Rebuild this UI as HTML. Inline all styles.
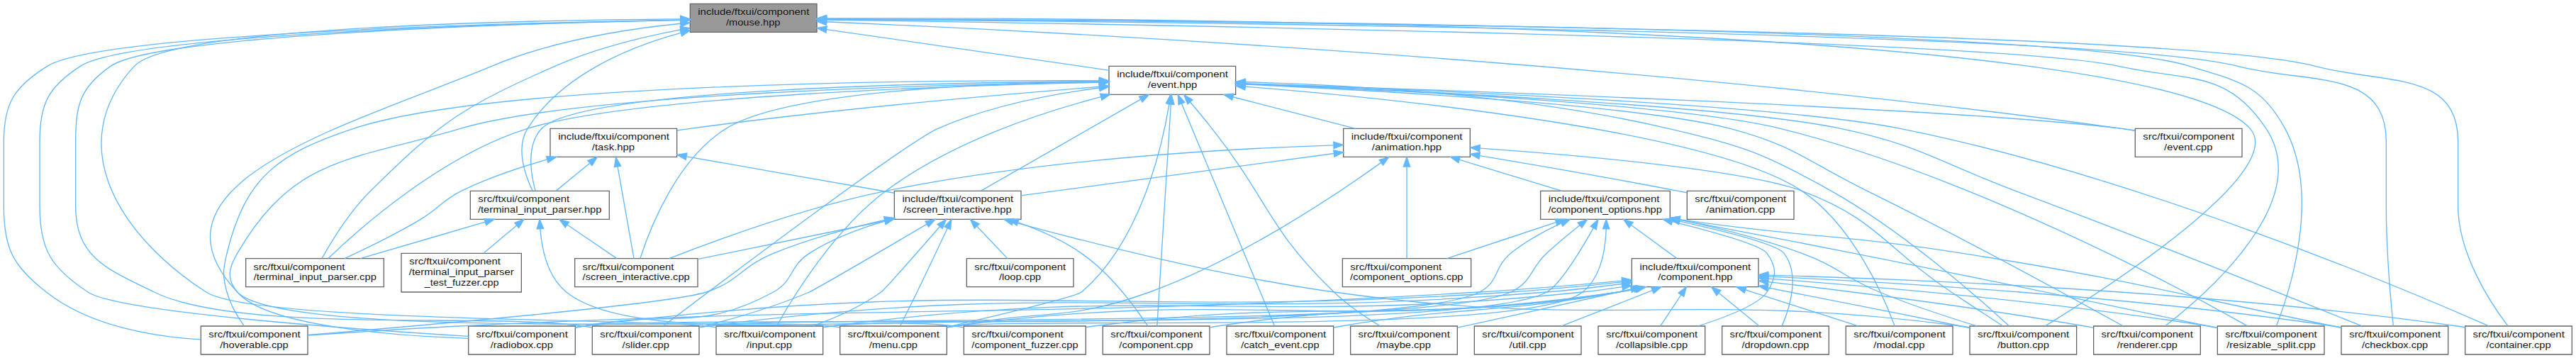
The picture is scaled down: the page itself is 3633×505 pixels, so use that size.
<!DOCTYPE html>
<html><head><meta charset="utf-8"><title>include/ftxui/component/mouse.hpp</title>
<style>
html,body{margin:0;padding:0;background:#fff;}
body{width:3633px;height:505px;overflow:hidden;}
svg{display:block;}
text{font-family:"Liberation Sans",sans-serif;font-size:10px;fill:#161616;}
.e path{fill:none;stroke:#63b8ff;stroke-width:1}
.e polygon{fill:#63b8ff;stroke:#63b8ff;stroke-width:1}
.n polygon{stroke:#666;stroke-width:1}
</style></head><body>
<svg width="3633" height="505" viewBox="0 0 2724.75 378.75">
<rect x="0" y="0" width="2724.75" height="378.75" fill="#fff"/>
<g transform="translate(4 375)">
<g class="n"><polygon fill="#999" points="860,-371 726,-371 726,-341 860,-341 860,-371"/><text x="734.22" y="-359" textLength="117.76" lengthAdjust="spacingAndGlyphs">include/ftxui/component</text><text x="763.99" y="-348" textLength="57.36" lengthAdjust="spacingAndGlyphs">/mouse.hpp</text></g>
<g class="n"><polygon fill="#fff" points="1303,-305 1169,-305 1169,-275 1303,-275 1303,-305"/><text x="1177.4" y="-293" textLength="117.52" lengthAdjust="spacingAndGlyphs">include/ftxui/component</text><text x="1210.07" y="-282" textLength="52.07" lengthAdjust="spacingAndGlyphs">/event.hpp</text></g>
<g class="e"><path d="M870.33,-343.83C954.76,-331.63 1088.61,-312.29 1168.81,-300.71"/><polygon points="869.68,-340.39 860.28,-345.28 870.68,-347.31 869.68,-340.39"/></g>
<g class="n"><polygon fill="#fff" points="2192.5,-30 2079.5,-30 2079.5,0 2192.5,0 2192.5,-30"/><text x="2087.9" y="-18" textLength="96.74" lengthAdjust="spacingAndGlyphs">src/ftxui/component</text><text x="2108.73" y="-7" textLength="54.8" lengthAdjust="spacingAndGlyphs">/button.cpp</text></g>
<g class="e"><path d="M870.06,-355.47C1173.59,-356.5 2274.88,-352.35 2376,-239 2415.95,-194.22 2227,-71.77 2159.34,-30.1"/><polygon points="870.05,-351.97 860.03,-355.43 870.02,-358.97 870.05,-351.97"/></g>
<g class="n"><polygon fill="#fff" points="2585.5,-30 2472.5,-30 2472.5,0 2585.5,0 2585.5,-30"/><text x="2480.9" y="-18" textLength="96.74" lengthAdjust="spacingAndGlyphs">src/ftxui/component</text><text x="2494.22" y="-7" textLength="69.96" lengthAdjust="spacingAndGlyphs">/checkbox.cpp</text></g>
<g class="e"><path d="M870.22,-354.52C1166.06,-352.39 2217.97,-342.27 2363,-305 2438.85,-285.51 2520,-303.31 2520,-225 2520,-225 2520,-225 2520,-157 2520,-110.64 2524.91,-55.88 2527.47,-30.39"/><polygon points="869.99,-351.02 860.02,-354.59 870.04,-358.02 869.99,-351.02"/></g>
<g class="n"><polygon fill="#fff" points="2716.5,-30 2603.5,-30 2603.5,0 2716.5,0 2716.5,-30"/><text x="2611.61" y="-18" textLength="96.98" lengthAdjust="spacingAndGlyphs">src/ftxui/component</text><text x="2625.84" y="-7" textLength="68.34" lengthAdjust="spacingAndGlyphs">/container.cpp</text></g>
<g class="e"><path d="M870.18,-354.72C1175.79,-353.33 2292.01,-345.49 2445,-305 2518.42,-285.57 2596,-300.95 2596,-225 2596,-225 2596,-225 2596,-157 2596,-106.73 2630.15,-54.67 2648.56,-30.25"/><polygon points="870.06,-351.22 860.08,-354.76 870.09,-358.22 870.06,-351.22"/></g>
<g class="n"><polygon fill="#fff" points="321.5,-30 208.5,-30 208.5,0 321.5,0 321.5,-30"/><text x="216.76" y="-18" textLength="96.93" lengthAdjust="spacingAndGlyphs">src/ftxui/component</text><text x="228.66" y="-7" textLength="72.32" lengthAdjust="spacingAndGlyphs">/hoverable.cpp</text></g>
<g class="e"><path d="M715.6,-353.92C535.97,-350.83 101.77,-339.8 46,-305 11.2,-283.29 0,-266.01 0,-225 0,-225 0,-225 0,-157 0,-111.88 9.56,-93.93 45,-66 91.6,-29.27 160.1,-18.5 208.25,-15.83"/><polygon points="715.71,-357.42 725.77,-354.09 715.83,-350.42 715.71,-357.42"/></g>
<g class="n"><polygon fill="#fff" points="866.5,-30 753.5,-30 753.5,0 866.5,0 866.5,-30"/><text x="761.9" y="-18" textLength="96.74" lengthAdjust="spacingAndGlyphs">src/ftxui/component</text><text x="785.66" y="-7" textLength="48.08" lengthAdjust="spacingAndGlyphs">/input.cpp</text></g>
<g class="e"><path d="M715.68,-354.86C550.81,-353.74 176.55,-346.61 138,-305 62.24,-223.24 120.46,-126.62 214,-66 263.53,-33.9 685.54,-38.14 744,-30 747.02,-29.58 750.1,-29.1 753.21,-28.58"/><polygon points="715.73,-358.36 725.75,-354.92 715.78,-351.36 715.73,-358.36"/></g>
<g class="n"><polygon fill="#fff" points="997.5,-30 884.5,-30 884.5,0 997.5,0 997.5,-30"/><text x="892.61" y="-18" textLength="96.98" lengthAdjust="spacingAndGlyphs">src/ftxui/component</text><text x="915.23" y="-7" textLength="51.23" lengthAdjust="spacingAndGlyphs">/menu.cpp</text></g>
<g class="e"><path d="M715.77,-350.04C658.75,-344.27 580.24,-331.81 516,-305 368.41,-243.4 137.2,-182.28 247,-66 294.99,-15.18 805.73,-39.28 875,-30 878.02,-29.6 881.1,-29.13 884.21,-28.62"/><polygon points="715.51,-353.53 725.8,-351.01 716.18,-346.56 715.51,-353.53"/></g>
<g class="n"><polygon fill="#fff" points="604.5,-30 491.5,-30 491.5,0 604.5,0 604.5,-30"/><text x="499.61" y="-18" textLength="96.98" lengthAdjust="spacingAndGlyphs">src/ftxui/component</text><text x="514.74" y="-7" textLength="66.19" lengthAdjust="spacingAndGlyphs">/radiobox.cpp</text></g>
<g class="e"><path d="M715.76,-353.75C542.38,-350.35 133.29,-338.8 81,-305 47.1,-283.09 38,-265.37 38,-225 38,-225 38,-225 38,-157 38,-110.64 50.33,-91.57 89,-66 121.93,-44.23 375.99,-26.35 491.34,-19.27"/><polygon points="715.77,-357.25 725.84,-353.94 715.9,-350.25 715.77,-357.25"/></g>
<g class="n"><polygon fill="#fff" points="2323.5,-30 2210.5,-30 2210.5,0 2323.5,0 2323.5,-30"/><text x="2218.61" y="-18" textLength="96.98" lengthAdjust="spacingAndGlyphs">src/ftxui/component</text><text x="2235.28" y="-7" textLength="63.83" lengthAdjust="spacingAndGlyphs">/renderer.cpp</text></g>
<g class="e"><path d="M870.44,-353.97C1150.84,-350 2103.55,-334.48 2237,-305 2310.51,-288.76 2351.41,-301.75 2393,-239 2443.24,-163.2 2332.81,-66.2 2286.35,-30.24"/><polygon points="870.31,-350.47 860.36,-354.11 870.41,-357.47 870.31,-350.47"/></g>
<g class="n"><polygon fill="#fff" points="2454.5,-30 2341.5,-30 2341.5,0 2454.5,0 2454.5,-30"/><text x="2349.76" y="-18" textLength="96.93" lengthAdjust="spacingAndGlyphs">src/ftxui/component</text><text x="2351.17" y="-7" textLength="94.04" lengthAdjust="spacingAndGlyphs">/resizable_split.cpp</text></g>
<g class="e"><path d="M870.28,-354.89C1160.28,-354.17 2174.22,-348.5 2312,-305 2363.13,-288.85 2387.48,-286.16 2413,-239 2451.04,-168.7 2418.15,-67.14 2403.85,-30.15"/><polygon points="870.26,-351.39 860.27,-354.92 870.28,-358.39 870.26,-351.39"/></g>
<g class="n"><polygon fill="#fff" points="735.5,-30 622.5,-30 622.5,0 735.5,0 735.5,-30"/><text x="630.76" y="-18" textLength="96.93" lengthAdjust="spacingAndGlyphs">src/ftxui/component</text><text x="654.22" y="-7" textLength="49.7" lengthAdjust="spacingAndGlyphs">/slider.cpp</text></g>
<g class="e"><path d="M715.78,-353.69C548.06,-350.22 161.58,-338.63 113,-305 80.79,-282.7 76,-264.17 76,-225 76,-225 76,-225 76,-157 76,-102.26 109.83,-90.07 159,-66 249.9,-21.5 512.84,-44.53 613,-30 616.01,-29.56 619.1,-29.07 622.2,-28.54"/><polygon points="715.71,-357.19 725.78,-353.89 715.85,-350.19 715.71,-357.19"/></g>
<g class="n"><polygon fill="#fff" points="402,-101.5 256,-101.5 256,-71.5 402,-71.5 402,-101.5"/><text x="264.11" y="-89.5" textLength="96.73" lengthAdjust="spacingAndGlyphs">src/ftxui/component</text><text x="264.28" y="-78.5" textLength="129.84" lengthAdjust="spacingAndGlyphs">/terminal_input_parser.cpp</text></g>
<g class="e"><path d="M715.89,-343.54C675.22,-335.8 625.15,-323.54 583,-305 487.2,-262.86 462.33,-246.67 388,-173 365.84,-151.04 346.69,-119.71 336.6,-101.71"/><polygon points="715.28,-346.99 725.75,-345.36 716.55,-340.1 715.28,-346.99"/></g>
<g class="n"><polygon fill="#fff" points="640.5,-173 493.5,-173 493.5,-143 640.5,-143 640.5,-173"/><text x="501.77" y="-161" textLength="96.62" lengthAdjust="spacingAndGlyphs">src/ftxui/component</text><text x="501.45" y="-150" textLength="130.94" lengthAdjust="spacingAndGlyphs">/terminal_input_parser.hpp</text></g>
<g class="e"><path d="M716.14,-340.17C660.56,-325 589.27,-295.33 554,-239 541.3,-218.73 551.2,-190.1 559.29,-173.16"/><polygon points="715.41,-343.6 725.97,-342.75 717.19,-336.83 715.41,-343.6"/></g>
<g class="n"><polygon fill="#fff" points="2367.5,-239 2254.5,-239 2254.5,-209 2367.5,-209 2367.5,-239"/><text x="2262.77" y="-227" textLength="96.62" lengthAdjust="spacingAndGlyphs">src/ftxui/component</text><text x="2285.08" y="-216" textLength="51.32" lengthAdjust="spacingAndGlyphs">/event.cpp</text></g>
<g class="e"><path d="M870,-351.94C1086.6,-342.66 1719.32,-310.96 2240,-239 2244.6,-238.36 2249.36,-237.62 2254.13,-236.81"/><polygon points="869.85,-348.44 860,-352.36 870.14,-355.44 869.85,-348.44"/></g>
<g class="n"><polygon fill="#fff" points="1551,-239 1417,-239 1417,-209 1551,-209 1551,-239"/><text x="1425.34" y="-227" textLength="117.55" lengthAdjust="spacingAndGlyphs">include/ftxui/component</text><text x="1447.13" y="-216" textLength="73.75" lengthAdjust="spacingAndGlyphs">/animation.hpp</text></g>
<g class="e"><path d="M1300.13,-272.45C1340.31,-262.08 1391.53,-248.86 1429.7,-239.01"/><polygon points="1299.23,-269.07 1290.42,-274.95 1300.98,-275.85 1299.23,-269.07"/></g>
<g class="e"><path d="M1313.27,-288.16C1416.6,-285.57 1604.87,-275.67 1761,-239 1840.71,-220.28 1861.63,-213.14 1933,-173 2009.5,-129.97 2088.47,-60.19 2120.81,-30.32"/><polygon points="1313.15,-284.66 1303.24,-288.4 1313.32,-291.66 1313.15,-284.66"/></g>
<g class="n"><polygon fill="#fff" points="1406.5,-30 1293.5,-30 1293.5,0 1406.5,0 1406.5,-30"/><text x="1301.9" y="-18" textLength="96.74" lengthAdjust="spacingAndGlyphs">src/ftxui/component</text><text x="1308.66" y="-7" textLength="82.8" lengthAdjust="spacingAndGlyphs">/catch_event.cpp</text></g>
<g class="e"><path d="M1245.86,-265.39C1268.88,-210.26 1325.63,-74.37 1344.09,-30.15"/><polygon points="1242.59,-264.13 1241.97,-274.71 1249.05,-266.83 1242.59,-264.13"/></g>
<g class="e"><path d="M1313.21,-286.19C1470.8,-280.02 1824.57,-263.83 1943,-239 2028.44,-221.09 2046.23,-203.58 2128,-173 2264.2,-122.06 2424.91,-57.9 2494.27,-30.01"/><polygon points="1312.98,-282.7 1303.12,-286.58 1313.25,-289.69 1312.98,-282.7"/></g>
<g class="n"><polygon fill="#fff" points="1275.5,-30 1162.5,-30 1162.5,0 1275.5,0 1275.5,-30"/><text x="1170.76" y="-18" textLength="96.93" lengthAdjust="spacingAndGlyphs">src/ftxui/component</text><text x="1179.76" y="-7" textLength="78.04" lengthAdjust="spacingAndGlyphs">/component.cpp</text></g>
<g class="e"><path d="M1234.49,-264.7C1231.03,-209.13 1222.62,-74.18 1219.88,-30.15"/><polygon points="1231,-264.94 1235.11,-274.71 1237.98,-264.51 1231,-264.94"/></g>
<g class="e"><path d="M1313,-286.58C1480.82,-280.88 1875,-265.11 2006,-239 2253.35,-189.7 2535.54,-70.96 2628.5,-30.1"/><polygon points="1312.88,-283.08 1303,-286.92 1313.12,-290.08 1312.88,-283.08"/></g>
<g class="e"><path d="M1158.77,-289.65C974.77,-290.38 515.1,-287.17 370,-239 290.66,-212.66 255.7,-188.24 236,-107 231.71,-89.29 231.27,-83.6 236,-66 239.49,-53.01 247.28,-39.92 253.9,-30.4"/><polygon points="1158.92,-293.15 1168.9,-289.6 1158.89,-286.15 1158.92,-293.15"/></g>
<g class="e"><path d="M1160.49,-272.5C1095.46,-255.55 1001.53,-224.27 933,-173 878.1,-131.93 834.55,-60.47 817.63,-30.2"/><polygon points="1159.71,-275.91 1170.27,-275 1161.44,-269.13 1159.71,-275.91"/></g>
<g class="n"><polygon fill="#fff" points="1537.5,-30 1424.5,-30 1424.5,0 1537.5,0 1537.5,-30"/><text x="1432.61" y="-18" textLength="96.98" lengthAdjust="spacingAndGlyphs">src/ftxui/component</text><text x="1452.31" y="-7" textLength="57.08" lengthAdjust="spacingAndGlyphs">/maybe.cpp</text></g>
<g class="e"><path d="M1254.98,-266.97C1262.29,-258.34 1270.64,-248.3 1278,-239 1337.54,-163.8 1337.62,-132.22 1407,-66 1421.69,-51.98 1440.73,-39.21 1455.81,-30.09"/><polygon points="1252.18,-264.86 1248.35,-274.74 1257.5,-269.4 1252.18,-264.86"/></g>
<g class="e"><path d="M1232.73,-265.06C1225.17,-219.21 1202.1,-118.86 1140,-66 1134.45,-61.27 1054.58,-42.14 997.74,-28.96"/><polygon points="1229.28,-265.64 1234.26,-274.98 1236.2,-264.57 1229.28,-265.64"/></g>
<g class="n"><polygon fill="#fff" points="2061.5,-30 1948.5,-30 1948.5,0 2061.5,0 2061.5,-30"/><text x="1956.76" y="-18" textLength="96.93" lengthAdjust="spacingAndGlyphs">src/ftxui/component</text><text x="1977.73" y="-7" textLength="54.13" lengthAdjust="spacingAndGlyphs">/modal.cpp</text></g>
<g class="e"><path d="M1313.44,-283.38C1467.67,-270.93 1806.57,-236.95 1902,-173 1956.16,-136.7 1988.56,-61.3 2000.15,-30.04"/><polygon points="1312.8,-279.92 1303.11,-284.2 1313.36,-286.89 1312.8,-279.92"/></g>
<g class="e"><path d="M1158.81,-288.17C993.04,-285.69 607.89,-276.01 483,-239 367.77,-204.85 307.8,-210.67 247,-107 237.78,-91.28 235.22,-79.9 247,-66 277.7,-29.78 412.98,-19.77 491.34,-17.02"/><polygon points="1158.88,-291.67 1168.93,-288.32 1158.99,-284.67 1158.88,-291.67"/></g>
<g class="e"><path d="M1313.28,-285.73C1450.51,-279.38 1731.22,-263.79 1826,-239 1894.5,-221.08 1907.47,-204.27 1971,-173 2072.51,-123.03 2190.64,-58.37 2241.53,-30.18"/><polygon points="1313.08,-282.24 1303.25,-286.19 1313.4,-289.23 1313.08,-282.24"/></g>
<g class="e"><path d="M1313.5,-286.15C1460.34,-280.22 1773.83,-264.93 1879,-239 2079.2,-189.64 2300.63,-70.94 2373.38,-30.09"/><polygon points="1313.07,-282.66 1303.22,-286.56 1313.35,-289.66 1313.07,-282.66"/></g>
<g class="e"><path d="M1158.78,-281.99C1108.51,-275.39 1042.41,-262.78 988,-239 955.42,-224.76 759.61,-77.15 697.73,-30.23"/><polygon points="1158.58,-285.49 1168.94,-283.27 1159.46,-278.55 1158.58,-285.49"/></g>
<g class="n"><polygon fill="#fff" points="1076,-173 942,-173 942,-143 1076,-143 1076,-173"/><text x="950.31" y="-161" textLength="117.6" lengthAdjust="spacingAndGlyphs">include/ftxui/component</text><text x="951.52" y="-150" textLength="114.45" lengthAdjust="spacingAndGlyphs">/screen_interactive.hpp</text></g>
<g class="e"><path d="M1202.56,-269.85C1156.51,-243.48 1074.61,-196.57 1033.69,-173.14"/><polygon points="1200.86,-272.91 1211.27,-274.84 1204.34,-266.83 1200.86,-272.91"/></g>
<g class="n"><polygon fill="#fff" points="734,-101.5 604,-101.5 604,-71.5 734,-71.5 734,-101.5"/><text x="612.11" y="-89.5" textLength="96.73" lengthAdjust="spacingAndGlyphs">src/ftxui/component</text><text x="612.21" y="-78.5" textLength="113.39" lengthAdjust="spacingAndGlyphs">/screen_interactive.cpp</text></g>
<g class="e"><path d="M1158.31,-288.86C1041.62,-287.32 827.95,-278.93 764,-239 711.59,-206.28 683.26,-132.88 673.24,-101.82"/><polygon points="1158.56,-292.37 1168.6,-288.98 1158.64,-285.37 1158.56,-292.37"/></g>
<g class="n"><polygon fill="#fff" points="712,-239 578,-239 578,-209 712,-209 712,-239"/><text x="586.4" y="-227" textLength="117.52" lengthAdjust="spacingAndGlyphs">include/ftxui/component</text><text x="622.13" y="-216" textLength="45.18" lengthAdjust="spacingAndGlyphs">/task.hpp</text></g>
<g class="e"><path d="M1158.97,-283.22C1058.93,-275.31 879,-259.69 726,-239 721.47,-238.39 716.81,-237.71 712.12,-236.99"/><polygon points="1158.74,-286.71 1168.99,-284.01 1159.29,-279.73 1158.74,-286.71"/></g>
<g class="e"><path d="M1158.61,-287.71C1004.58,-284.43 664.91,-273.42 554,-239 463.6,-210.95 376.45,-133.55 343.18,-101.59"/><polygon points="1158.86,-291.22 1168.93,-287.93 1159,-284.22 1158.86,-291.22"/></g>
<g class="e"><path d="M1158.58,-288.9C991.5,-287.88 608.91,-280.95 569,-239 552.43,-221.59 557.34,-191.17 562.27,-173.28"/><polygon points="1158.77,-292.4 1168.78,-288.96 1158.8,-285.4 1158.77,-292.4"/></g>
<g class="e"><path d="M1313.57,-286.59C1516.74,-280.06 2061.01,-260.99 2240,-239 2244.61,-238.43 2249.38,-237.74 2254.15,-236.96"/><polygon points="1313.17,-283.1 1303.29,-286.92 1313.39,-290.1 1313.17,-283.1"/></g>
<g class="n"><polygon fill="#fff" points="1762.5,-173 1625.5,-173 1625.5,-143 1762.5,-143 1762.5,-173"/><text x="1633.84" y="-161" textLength="117.55" lengthAdjust="spacingAndGlyphs">include/ftxui/component</text><text x="1633.59" y="-150" textLength="120.34" lengthAdjust="spacingAndGlyphs">/component_options.hpp</text></g>
<g class="e"><path d="M1539.82,-205.99C1573.61,-195.69 1616.18,-182.72 1648.02,-173.01"/><polygon points="1538.63,-202.69 1530.09,-208.95 1540.67,-209.39 1538.63,-202.69"/></g>
<g class="e"><path d="M1561.36,-218.13C1664.57,-210.88 1841.36,-195.63 1902,-173 1981.46,-143.35 1989.46,-113.09 2060,-66 2078.26,-53.81 2099.1,-40.12 2114.33,-30.15"/><polygon points="1561.03,-214.64 1551.3,-218.83 1561.52,-221.62 1561.03,-214.64"/></g>
<g class="e"><path d="M1456.87,-202.95C1409.67,-169.12 1308.25,-100.95 1212,-66 1124.64,-34.28 1097.22,-47.79 1006,-30 1003.28,-29.47 1000.5,-28.92 997.69,-28.35"/><polygon points="1454.89,-205.84 1465.04,-208.86 1458.99,-200.16 1454.89,-205.84"/></g>
<g class="n"><polygon fill="#fff" points="1552,-101.5 1416,-101.5 1416,-71.5 1552,-71.5 1552,-101.5"/><text x="1424.27" y="-89.5" textLength="96.62" lengthAdjust="spacingAndGlyphs">src/ftxui/component</text><text x="1424.08" y="-78.5" textLength="119.54" lengthAdjust="spacingAndGlyphs">/component_options.cpp</text></g>
<g class="e"><path d="M1484,-198.48C1484,-170.14 1484,-124.46 1484,-101.55"/><polygon points="1480.5,-198.76 1484,-208.76 1487.5,-198.76 1480.5,-198.76"/></g>
<g class="e"><path d="M1406.89,-212.61C1315.08,-200.24 1163.25,-179.78 1076.09,-168.04"/><polygon points="1406.57,-216.1 1416.95,-213.97 1407.51,-209.16 1406.57,-216.1"/></g>
<g class="e"><path d="M1406.63,-221.39C1299.29,-217.94 1099.6,-207.09 933,-173 848.75,-155.76 753.64,-120.99 703.77,-101.52"/><polygon points="1406.62,-224.9 1416.72,-221.71 1406.83,-217.9 1406.62,-224.9"/></g>
<g class="n"><polygon fill="#fff" points="1893.5,-173 1780.5,-173 1780.5,-143 1893.5,-143 1893.5,-173"/><text x="1788.77" y="-161" textLength="96.62" lengthAdjust="spacingAndGlyphs">src/ftxui/component</text><text x="1800.5" y="-150" textLength="73.09" lengthAdjust="spacingAndGlyphs">/animation.cpp</text></g>
<g class="e"><path d="M1561.27,-210.33C1619.12,-200.65 1700.14,-186.68 1771,-173 1773.99,-172.42 1777.05,-171.82 1780.15,-171.2"/><polygon points="1560.39,-206.92 1551.11,-212.02 1561.55,-213.83 1560.39,-206.92"/></g>
<g class="n"><polygon fill="#fff" points="1856,-101.5 1722,-101.5 1722,-71.5 1856,-71.5 1856,-101.5"/><text x="1730.31" y="-89.5" textLength="117.6" lengthAdjust="spacingAndGlyphs">include/ftxui/component</text><text x="1749.68" y="-78.5" textLength="78.98" lengthAdjust="spacingAndGlyphs">/component.hpp</text></g>
<g class="e"><path d="M1721.42,-136.94C1736.91,-125.6 1755.9,-111.71 1769.8,-101.54"/><polygon points="1719.23,-134.21 1713.22,-142.94 1723.36,-139.86 1719.23,-134.21"/></g>
<g class="e"><path d="M1772.44,-142.56C1811.94,-134.18 1860.19,-122.25 1902,-107 1940.28,-93.04 1946.32,-81.52 1984,-66 2017.78,-52.09 2056.96,-39.27 2087.08,-30.1"/><polygon points="1771.67,-139.14 1762.6,-144.61 1773.1,-146 1771.67,-139.14"/></g>
<g class="e"><path d="M1772.98,-142.76C1905.98,-123.17 1942.16,-127.49 2072,-107 2247.38,-79.33 2290.1,-65.8 2464,-30 2466.71,-29.44 2469.49,-28.86 2472.29,-28.28"/><polygon points="1772.19,-139.34 1762.81,-144.27 1773.22,-146.26 1772.19,-139.34"/></g>
<g class="n"><polygon fill="#fff" points="1799.5,-30 1686.5,-30 1686.5,0 1799.5,0 1799.5,-30"/><text x="1694.9" y="-18" textLength="96.74" lengthAdjust="spacingAndGlyphs">src/ftxui/component</text><text x="1705.25" y="-7" textLength="75.91" lengthAdjust="spacingAndGlyphs">/collapsible.cpp</text></g>
<g class="e"><path d="M1764.92,-140.49C1809.04,-129.51 1858.58,-115.57 1865,-107 1875.93,-92.42 1875.15,-81.13 1865,-66 1856.3,-53.03 1822.19,-39.67 1792.24,-30.03"/><polygon points="1763.9,-137.14 1755.03,-142.93 1765.57,-143.94 1763.9,-137.14"/></g>
<g class="n"><polygon fill="#fff" points="1930.5,-30 1817.5,-30 1817.5,0 1930.5,0 1930.5,-30"/><text x="1825.61" y="-18" textLength="96.98" lengthAdjust="spacingAndGlyphs">src/ftxui/component</text><text x="1838.32" y="-7" textLength="71.26" lengthAdjust="spacingAndGlyphs">/dropdown.cpp</text></g>
<g class="e"><path d="M1772.66,-140.89C1821.31,-130.13 1875.85,-116.29 1883,-107 1900.14,-84.73 1889.28,-49.76 1880.94,-30.29"/><polygon points="1771.72,-137.51 1762.7,-143.07 1773.22,-144.35 1771.72,-137.51"/></g>
<g class="e"><path d="M1681.31,-133.64C1667.56,-109.32 1645.77,-73.7 1632,-66 1558.51,-24.88 958.5,-40.9 875,-30 872.25,-29.64 869.45,-29.23 866.62,-28.77"/><polygon points="1678.39,-135.6 1686.32,-142.63 1684.51,-132.19 1678.39,-135.6"/></g>
<g class="e"><path d="M1694.9,-132.8C1694.24,-111.65 1689.53,-81.9 1670,-66 1612.71,-19.34 1079.23,-39.81 1006,-30 1003.25,-29.63 1000.45,-29.21 997.63,-28.75"/><polygon points="1691.4,-132.97 1694.93,-142.95 1698.4,-132.94 1691.4,-132.97"/></g>
<g class="e"><path d="M1647.04,-138.6C1629.4,-130.42 1609.81,-119.74 1594,-107 1575.79,-92.32 1581.9,-76.5 1561,-66 1466.81,-18.68 717.59,-43.15 613,-30 610.25,-29.65 607.45,-29.25 604.62,-28.8"/><polygon points="1646.05,-141.98 1656.6,-142.88 1648.91,-135.6 1646.05,-141.98"/></g>
<g class="e"><path d="M1772.6,-142.37C1824.9,-132.56 1895.1,-119.24 1957,-107 2123.91,-74 2165.45,-64.76 2332,-30 2335.1,-29.35 2338.27,-28.69 2341.48,-28.01"/><polygon points="1771.9,-138.94 1762.72,-144.22 1773.19,-145.82 1771.9,-138.94"/></g>
<g class="e"><path d="M1666.86,-136.5C1655.75,-127.75 1642.95,-117.23 1632,-107 1613.84,-90.05 1616.55,-76.42 1594,-66 1508.19,-26.35 837.76,-42 744,-30 741.25,-29.65 738.45,-29.24 735.62,-28.79"/><polygon points="1664.92,-139.43 1674.96,-142.8 1669.22,-133.9 1664.92,-139.43"/></g>
<g class="e"><path d="M1641.78,-139.72C1606.21,-127.95 1559.72,-112.56 1526.43,-101.54"/><polygon points="1640.91,-143.12 1651.5,-142.94 1643.11,-136.47 1640.91,-143.12"/></g>
<g class="e"><path d="M1865.98,-70.6C1922.48,-59.59 2001.07,-44.12 2070,-30 2073.1,-29.37 2076.28,-28.71 2079.49,-28.04"/><polygon points="1865.2,-67.18 1856.05,-72.53 1866.53,-74.06 1865.2,-67.18"/></g>
<g class="e"><path d="M1724.37,-69.25C1718.85,-68.07 1713.34,-66.97 1708,-66 1578.9,-42.61 1544.37,-51.83 1415,-30 1412.27,-29.54 1409.48,-29.04 1406.66,-28.52"/><polygon points="1723.76,-72.7 1734.28,-71.43 1725.27,-65.86 1723.76,-72.7"/></g>
<g class="e"><path d="M1866.71,-82.4C1992.68,-76.64 2249.05,-61.85 2464,-30 2466.74,-29.59 2469.54,-29.14 2472.36,-28.65"/><polygon points="1866.23,-78.92 1856.4,-82.86 1866.54,-85.91 1866.23,-78.92"/></g>
<g class="e"><path d="M1774.03,-62.88C1766.87,-52.07 1758.53,-39.46 1752.29,-30.04"/><polygon points="1771.25,-65.03 1779.69,-71.44 1777.09,-61.16 1771.25,-65.03"/></g>
<g class="e"><path d="M1725.67,-69.29C1719.72,-68.06 1713.76,-66.93 1708,-66 1521.31,-35.78 1471.04,-57.97 1284,-30 1281.26,-29.59 1278.46,-29.13 1275.64,-28.64"/><polygon points="1725.13,-72.75 1735.64,-71.44 1726.61,-65.91 1725.13,-72.75"/></g>
<g class="n"><polygon fill="#fff" points="1144.5,-30 1015.5,-30 1015.5,0 1144.5,0 1144.5,-30"/><text x="1023.76" y="-18" textLength="96.93" lengthAdjust="spacingAndGlyphs">src/ftxui/component</text><text x="1023.78" y="-7" textLength="112.61" lengthAdjust="spacingAndGlyphs">/component_fuzzer.cpp</text></g>
<g class="e"><path d="M1726.71,-69.37C1720.42,-68.08 1714.1,-66.93 1708,-66 1463.61,-28.94 1398.19,-61.34 1153,-30 1150.31,-29.66 1147.57,-29.27 1144.81,-28.86"/><polygon points="1726.02,-72.8 1736.54,-71.49 1727.5,-65.96 1726.02,-72.8"/></g>
<g class="e"><path d="M1866.28,-83.86C2010.28,-79.99 2329.17,-67.58 2595,-30 2597.74,-29.61 2600.54,-29.17 2603.37,-28.7"/><polygon points="1866.12,-80.36 1856.21,-84.12 1866.3,-87.36 1866.12,-80.36"/></g>
<g class="e"><path d="M1814.31,-64.81C1828.02,-53.59 1844.62,-40.02 1856.82,-30.04"/><polygon points="1811.73,-62.4 1806.2,-71.44 1816.16,-67.82 1811.73,-62.4"/></g>
<g class="e"><path d="M1711.65,-77.88C1667.55,-73.79 1611.22,-68.98 1561,-66 1082.02,-37.55 961.25,-53.45 482,-30 427.51,-27.33 365.4,-23.22 321.63,-20.14"/><polygon points="1711.44,-81.38 1721.73,-78.82 1712.09,-74.41 1711.44,-81.38"/></g>
<g class="e"><path d="M1711.84,-71.51C1697.95,-69.37 1683.57,-67.41 1670,-66 1318.21,-29.34 1225.77,-75.39 875,-30 872.25,-29.64 869.45,-29.23 866.62,-28.78"/><polygon points="1711.42,-74.98 1721.85,-73.09 1712.51,-68.07 1711.42,-74.98"/></g>
<g class="e"><path d="M1721.24,-69.09C1716.76,-68.03 1712.32,-67 1708,-66 1676.2,-58.67 1593.96,-40.64 1537.72,-28.36"/><polygon points="1720.53,-72.51 1731.07,-71.41 1722.14,-65.7 1720.53,-72.51"/></g>
<g class="e"><path d="M1727.01,-69.34C1720.62,-68.05 1714.2,-66.9 1708,-66 1398.81,-21.25 1315.7,-71.02 1006,-30 1003.25,-29.64 1000.45,-29.22 997.63,-28.76"/><polygon points="1726.48,-72.81 1736.99,-71.48 1727.94,-65.96 1726.48,-72.81"/></g>
<g class="e"><path d="M1842.24,-68.37C1878.89,-56.58 1926.97,-41.11 1961.35,-30.04"/><polygon points="1841.16,-65.04 1832.71,-71.44 1843.3,-71.7 1841.16,-65.04"/></g>
<g class="e"><path d="M1711.5,-76.62C1675.77,-72.81 1632.77,-68.65 1594,-66 1158.72,-36.28 1045.92,-84.14 613,-30 610.25,-29.66 607.45,-29.25 604.62,-28.81"/><polygon points="1711.54,-80.14 1721.85,-77.73 1712.29,-73.18 1711.54,-80.14"/></g>
<g class="e"><path d="M1866.42,-76.83C1949.43,-67.12 2084.94,-50.1 2201,-30 2204,-29.48 2207.07,-28.92 2210.17,-28.34"/><polygon points="1865.85,-73.37 1856.32,-78.01 1866.65,-80.33 1865.85,-73.37"/></g>
<g class="e"><path d="M1866.42,-80.21C1972.07,-72.4 2167.1,-55.84 2332,-30 2335.01,-29.53 2338.09,-29.01 2341.19,-28.45"/><polygon points="1865.89,-76.74 1856.17,-80.96 1866.4,-83.72 1865.89,-76.74"/></g>
<g class="e"><path d="M1711.95,-74.64C1686.54,-71.4 1658.1,-68.15 1632,-66 1238.34,-33.63 1135.84,-79.77 744,-30 741.25,-29.65 738.45,-29.24 735.62,-28.79"/><polygon points="1711.53,-78.11 1721.89,-75.92 1712.43,-71.17 1711.53,-78.11"/></g>
<g class="n"><polygon fill="#fff" points="1668.5,-30 1555.5,-30 1555.5,0 1668.5,0 1668.5,-30"/><text x="1563.76" y="-18" textLength="96.93" lengthAdjust="spacingAndGlyphs">src/ftxui/component</text><text x="1592.35" y="-7" textLength="39.06" lengthAdjust="spacingAndGlyphs">/util.cpp</text></g>
<g class="e"><path d="M1743.83,-67.76C1714,-56.05 1675.46,-40.92 1647.77,-30.04"/><polygon points="1742.59,-71.04 1753.18,-71.44 1745.15,-64.52 1742.59,-71.04"/></g>
<g class="e"><path d="M1067.83,-140.23C1144.99,-119 1284.91,-83.14 1407,-66 1699.23,-24.96 1777.45,-68.73 2070,-30 2073.02,-29.6 2076.11,-29.14 2079.22,-28.63"/><polygon points="1066.53,-136.96 1057.83,-143 1068.4,-143.7 1066.53,-136.96"/></g>
<g class="e"><path d="M1073.02,-139.61C1095.4,-131.76 1119.93,-121.04 1140,-107 1170.52,-85.66 1196.79,-50 1209.97,-30.25"/><polygon points="1071.6,-136.4 1063.24,-142.91 1073.84,-143.03 1071.6,-136.4"/></g>
<g class="e"><path d="M931.59,-142.25C895.16,-134.03 851.57,-122.32 814,-107 780.26,-93.24 777.66,-77.25 743,-66 703.77,-53.26 439.92,-30.37 321.89,-20.61"/><polygon points="931.14,-145.74 941.66,-144.48 932.65,-138.9 931.14,-145.74"/></g>
<g class="e"><path d="M990.19,-135.39C967.44,-109.33 931.72,-68.67 928,-66 906.21,-50.38 878.79,-38.38 855.87,-30.06"/><polygon points="987.57,-137.71 996.78,-142.95 992.84,-133.11 987.57,-137.71"/></g>
<g class="e"><path d="M998.15,-133.67C989.54,-115.24 977.14,-88.91 966,-66 960.14,-53.96 953.34,-40.37 948.31,-30.4"/><polygon points="994.99,-135.18 1002.39,-142.77 1001.34,-132.23 994.99,-135.18"/></g>
<g class="e"><path d="M932.21,-141.06C905.5,-133.36 876.19,-122.37 852,-107 831.03,-93.68 835.8,-77.92 814,-66 734.37,-22.47 702.04,-47.56 613,-30 610.28,-29.46 607.5,-28.91 604.7,-28.33"/><polygon points="931.35,-144.45 941.92,-143.74 933.21,-137.7 931.35,-144.45"/></g>
<g class="e"><path d="M976.46,-137.87C932.4,-112 858.47,-68.76 852,-66 814.33,-49.93 769.91,-37.21 735.52,-28.62"/><polygon points="974.72,-140.9 985.11,-142.95 978.26,-134.87 974.72,-140.9"/></g>
<g class="n"><polygon fill="#fff" points="1131.5,-101.5 1018.5,-101.5 1018.5,-71.5 1131.5,-71.5 1131.5,-101.5"/><text x="1026.77" y="-89.5" textLength="96.62" lengthAdjust="spacingAndGlyphs">src/ftxui/component</text><text x="1052.73" y="-78.5" textLength="44.4" lengthAdjust="spacingAndGlyphs">/loop.cpp</text></g>
<g class="e"><path d="M1029.25,-135.67C1039.79,-124.58 1052.36,-111.34 1061.66,-101.54"/><polygon points="1026.7,-133.27 1022.36,-142.94 1031.78,-138.09 1026.7,-133.27"/></g>
<g class="e"><path d="M931.7,-141.2C872.01,-129 790.37,-112.31 734.01,-100.79"/><polygon points="931.33,-144.7 941.83,-143.27 932.73,-137.84 931.33,-144.7"/></g>
<g class="e"><path d="M722.4,-209.39C787.57,-197.93 879.82,-181.71 941.9,-170.8"/><polygon points="721.43,-206.01 712.19,-211.19 722.64,-212.9 721.43,-206.01"/></g>
<g class="e"><path d="M649.28,-198.85C654.29,-170.54 662.44,-124.56 666.51,-101.55"/><polygon points="645.82,-198.3 647.52,-208.76 652.71,-199.52 645.82,-198.3"/></g>
<g class="e"><path d="M574.44,-206.17C545.63,-198.01 512.45,-186.93 484,-173 463.07,-162.76 461.05,-154.87 441,-143 414.67,-127.41 383.37,-112.16 360.56,-101.6"/><polygon points="573.87,-209.65 584.44,-208.94 575.74,-202.9 573.87,-209.65"/></g>
<g class="e"><path d="M619.65,-202.2C608.07,-192.7 594.65,-181.69 584.26,-173.16"/><polygon points="617.74,-205.16 627.69,-208.8 622.18,-199.75 617.74,-205.16"/></g>
<g class="e"><path d="M567.36,-132.85C569.08,-111.73 575.19,-82.02 595,-66 666.3,-8.36 915.18,-42.54 1006,-30 1009.11,-29.57 1012.28,-29.1 1015.49,-28.6"/><polygon points="563.86,-132.81 566.81,-142.99 570.85,-133.19 563.86,-132.81"/></g>
<g class="e"><path d="M595.98,-137.25C612.7,-125.86 633.33,-111.81 648.39,-101.54"/><polygon points="593.93,-134.41 587.64,-142.94 597.88,-140.2 593.93,-134.41"/></g>
<g class="e"><path d="M509.11,-140.09C468.63,-128.28 415.22,-112.68 377.09,-101.54"/><polygon points="508.26,-143.49 518.84,-142.94 510.22,-136.77 508.26,-143.49"/></g>
<g class="n"><polygon fill="#fff" points="547.5,-107 420.5,-107 420.5,-66 547.5,-66 547.5,-107"/><text x="428.96" y="-95" textLength="96.51" lengthAdjust="spacingAndGlyphs">src/ftxui/component</text><text x="428.63" y="-84" textLength="110.96" lengthAdjust="spacingAndGlyphs">/terminal_input_parser</text><text x="445.16" y="-73" textLength="78.51" lengthAdjust="spacingAndGlyphs">_test_fuzzer.cpp</text></g>
<g class="e"><path d="M542.52,-136.5C531.42,-127.21 518.35,-116.26 507.38,-107.07"/><polygon points="540.29,-139.2 550.2,-142.94 544.78,-133.83 540.29,-139.2"/></g>
</g></svg></body></html>
